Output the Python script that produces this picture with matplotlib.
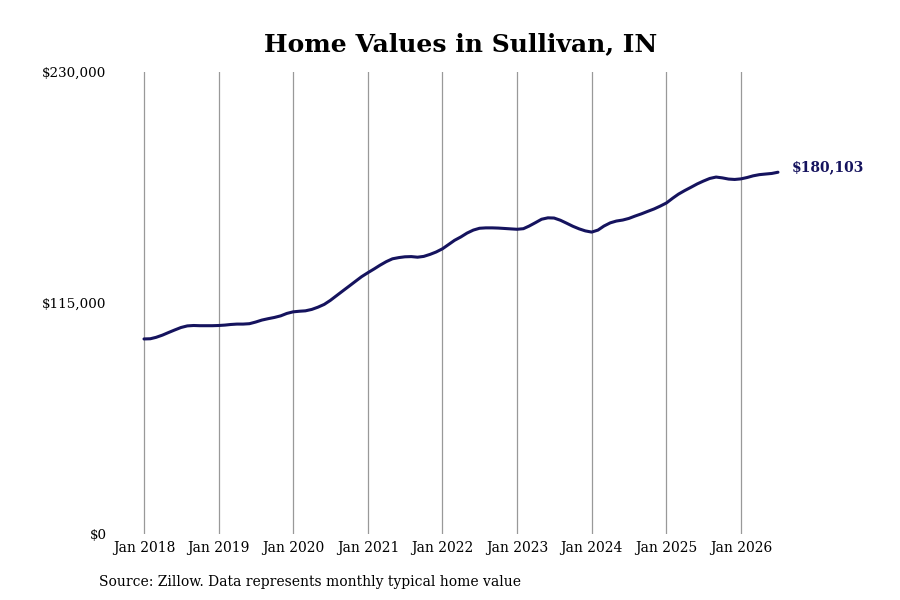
import numpy as np
import pandas as pd
import matplotlib
matplotlib.use("Agg")
import matplotlib.pyplot as plt
import matplotlib.dates as mdates

# monthly typical home value, Jan 2018 .. Jul 2026
values_2018 = [97100, 97200, 97900, 99000, 100300, 101600, 102800, 103600, 103800, 103700, 103700, 103700]
values_2019 = [103800, 104000, 104300, 104500, 104500, 104700, 105500, 106500, 107200, 107800, 108600, 109800]
values_2020 = [110600, 110900, 111100, 111800, 112900, 114300, 116300, 118700, 121100, 123400, 125800, 128100]
values_2021 = [130100, 132000, 133800, 135600, 137000, 137600, 138000, 138100, 137800, 138200, 139200, 140400]
values_2022 = [142000, 144200, 146200, 147900, 149800, 151300, 152200, 152400, 152400, 152300, 152100, 151900]
values_2023 = [151700, 152000, 153300, 155000, 156700, 157400, 157300, 156200, 154700, 153200, 151900, 150900]
values_2024 = [150300, 151300, 153300, 154900, 155800, 156300, 157100, 158300, 159400, 160600, 161800, 163200]
values_2025 = [164800, 167200, 169200, 171000, 172600, 174300, 175700, 177000, 177700, 177300, 176700, 176500]
values_2026 = [176800, 177500, 178300, 178900, 179200, 179500, 180103]

values = (values_2018 + values_2019 + values_2020 + values_2021 + values_2022
          + values_2023 + values_2024 + values_2025 + values_2026)
dates = pd.date_range("2018-01-01", periods=len(values), freq="MS")

tick_years = list(range(2018, 2027))
tick_labels = [f"Jan {y}" for y in tick_years]
y_ticks = [0, 115000, 230000]
y_labels = ["$0", "$115,000", "$230,000"]

line_color = "#15135e"
plt.rcParams["font.family"] = ["DejaVu Serif"]

W, H = 900, 600
fig = plt.figure(figsize=(9, 6), dpi=100)

# axes placed in pixel terms
L, R, T, B = 110, 790, 72, 534
ax = fig.add_axes([L / W, (H - B) / H, (R - L) / W, (B - T) / H])

x0 = mdates.date2num(pd.Timestamp("2018-01-01"))
x1 = mdates.date2num(pd.Timestamp("2026-01-01"))
ppd = (741 - 144) / (x1 - x0)
ax.set_xlim(x0 - (144 - L) / ppd, x0 + (R - 144) / ppd)
ax.set_ylim(0, 230000)

ax.plot(dates, values, color=line_color, lw=2.2, solid_capstyle="round")

ax.set_xticks([pd.Timestamp(f"{y}-01-01") for y in tick_years])
ax.set_xticklabels(tick_labels, fontsize=10)
ax.set_yticks(y_ticks)
ax.set_yticklabels(y_labels, fontsize=9.7)
ax.tick_params(axis="both", length=0)
ax.tick_params(axis="x", pad=5)
ax.tick_params(axis="y", pad=2.5)
ax.grid(axis="x", color="#999999", lw=0.9)
ax.grid(axis="y", visible=False)
for s in ax.spines.values():
    s.set_visible(False)

ax.annotate(f"${values[-1]:,}", xy=(dates[-1], values[-1]), xytext=(10, 3.5),
            textcoords="offset points", color=line_color, fontsize=10,
            fontweight="bold", va="center", ha="left")

fig.text(461 / W, 1 - 44 / H, "Home Values in Sullivan, IN", ha="center",
         va="center", fontsize=18, fontweight="bold")
fig.text(99 / W, 1 - 582 / H, "Source: Zillow. Data represents monthly typical home value",
         ha="left", va="center", fontsize=10)

fig.savefig("out.png", dpi=100)
